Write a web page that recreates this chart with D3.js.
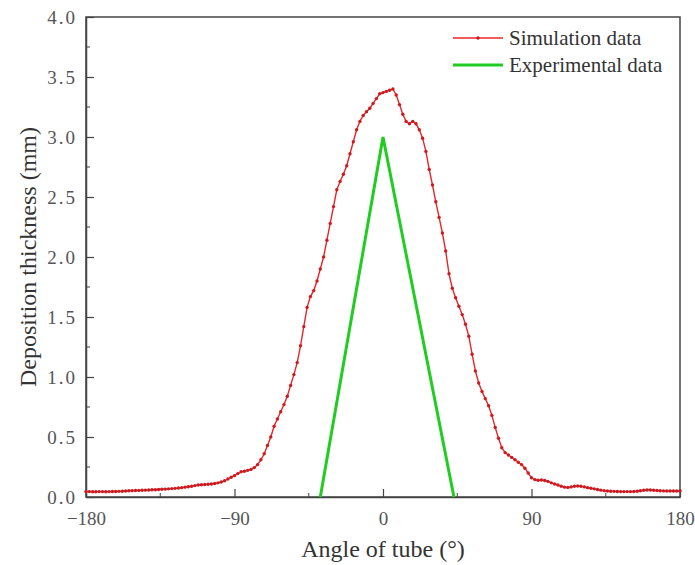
<!DOCTYPE html>
<html>
<head>
<meta charset="utf-8">
<script src="https://cdn.jsdelivr.net/npm/d3@7"></script>
<style>
  body { margin: 0; background: #fff; }
  text { font-family: "Liberation Serif", "Times New Roman", serif; }
</style>
</head>
<body>
<svg id="chart"></svg>
<script>
// simulation samples, every 2 degrees
const simAngle = [
  -180,-178,-176,-174,-172,-170,-168,-166,-164,-162,
  -160,-158,-156,-154,-152,-150,-148,-146,-144,-142,
  -140,-138,-136,-134,-132,-130,-128,-126,-124,-122,
  -120,-118,-116,-114,-112,-110,-108,-106,-104,-102,
  -100,-98,-96,-94,-92,-90,-88,-86,-84,-82,
  -80,-78,-76,-74,-72,-70,-68,-66,-64,-62,
  -60,-58,-56,-54,-52,-50,-48,-46,-44,-42,
  -40,-38,-36,-34,-32,-30,-28,-26,-24,-22,
  -20,-18,-16,-14,-12,-10,-8,-6,-4,-2,
  0,2,4,6,8,10,12,14,16,18,
  20,22,24,26,28,30,32,34,36,38,
  40,42,44,46,48,50,52,54,56,58,
  60,62,64,66,68,70,72,74,76,78,
  80,82,84,86,88,90,92,94,96,98,
  100,102,104,106,108,110,112,114,116,118,
  120,122,124,126,128,130,132,134,136,138,
  140,142,144,146,148,150,152,154,156,158,
  160,162,164,166,168,170,172,174,176,178,
  180
];
const simThickness = [
  0.045,0.045,0.044,0.044,0.045,0.045,0.044,0.045,0.046,0.046,
  0.047,0.048,0.050,0.052,0.053,0.054,0.055,0.056,0.057,0.058,
  0.060,0.060,0.062,0.064,0.066,0.068,0.070,0.072,0.075,0.078,
  0.082,0.085,0.090,0.095,0.100,0.102,0.104,0.106,0.108,0.112,
  0.118,0.125,0.135,0.150,0.165,0.178,0.195,0.210,0.215,0.222,
  0.230,0.245,0.270,0.310,0.360,0.430,0.500,0.590,0.650,0.710,
  0.770,0.840,0.930,1.020,1.120,1.260,1.420,1.580,1.670,1.720,
  1.800,1.900,2.000,2.140,2.280,2.420,2.560,2.630,2.690,2.760,
  2.860,2.960,3.060,3.130,3.180,3.210,3.240,3.280,3.320,3.360,
  3.370,3.380,3.390,3.400,3.350,3.270,3.190,3.130,3.110,3.130,
  3.110,3.060,2.990,2.880,2.730,2.600,2.460,2.330,2.200,2.050,
  1.860,1.740,1.660,1.590,1.520,1.440,1.340,1.190,1.050,0.950,
  0.880,0.820,0.760,0.680,0.580,0.490,0.410,0.370,0.350,0.330,
  0.310,0.290,0.270,0.240,0.200,0.160,0.145,0.140,0.142,0.138,
  0.130,0.118,0.108,0.100,0.090,0.082,0.080,0.084,0.090,0.092,
  0.090,0.084,0.078,0.073,0.068,0.062,0.057,0.053,0.050,0.048,
  0.047,0.046,0.045,0.045,0.045,0.045,0.046,0.048,0.052,0.056,
  0.058,0.058,0.056,0.054,0.052,0.051,0.050,0.050,0.050,0.050,
  0.050
];
// experimental profile
const expAngle = [-38, 0, 43];
const expThickness = [0, 3.0, 0];

const xTicks = [-180, -90, 0, 90, 180];
const xMinor = [-135, -45, 45, 135];
const yTicks = [0, 0.5, 1, 1.5, 2, 2.5, 3, 3.5, 4];
const yMinor = [0.25, 0.75, 1.25, 1.75, 2.25, 2.75, 3.25, 3.75];
const seriesNames = ["Simulation data", "Experimental data"];

const width = 695, height = 565;
const margin = {top: 17, right: 15, bottom: 68, left: 86};

const svg = d3.select("#chart").attr("width", width).attr("height", height);

const x = d3.scaleLinear().domain([-180, 180]).range([margin.left, width - margin.right]);
const y = d3.scaleLinear().domain([0, 4]).range([height - margin.bottom, margin.top]);

const axisColor = "#444";

// frame
svg.append("rect")
  .attr("x", x(-180)).attr("y", y(4))
  .attr("width", x(180) - x(-180)).attr("height", y(0) - y(4))
  .attr("fill", "none").attr("stroke", axisColor).attr("stroke-width", 1.5);

// ticks pointing inward
const fmtX = d => d < 0 ? "\u2212" + Math.abs(d) : String(d);
const xAxis = svg.append("g").attr("transform", `translate(0,${y(0)})`)
  .call(d3.axisBottom(x).tickValues(xTicks).tickSizeInner(-8).tickSizeOuter(0).tickPadding(15).tickFormat(fmtX));
xAxis.append("g").selectAll("line").data(xMinor).enter().append("line")
  .attr("x1", d => x(d)).attr("x2", d => x(d)).attr("y1", 0).attr("y2", -4)
  .attr("stroke", axisColor);

const yAxis = svg.append("g").attr("transform", `translate(${x(-180)},0)`)
  .call(d3.axisLeft(y).tickValues(yTicks).tickSizeInner(-8).tickSizeOuter(0).tickPadding(9).tickFormat(d3.format(".1f")));
yAxis.append("g").selectAll("line").data(yMinor).enter().append("line")
  .attr("y1", d => y(d)).attr("y2", d => y(d)).attr("x1", 0).attr("x2", 4)
  .attr("stroke", axisColor);

[xAxis, yAxis].forEach(g => {
  g.select(".domain").attr("stroke", axisColor).attr("stroke-width", 1.5);
  g.selectAll(".tick line").attr("stroke", axisColor).attr("stroke-width", 1.2);
  g.selectAll(".tick text")
    .attr("fill", "#555")
    .style("font-family", "'Liberation Serif', serif")
    .style("font-size", "19px");
});
yAxis.selectAll(".tick text").attr("letter-spacing", "2px");

// simulation line
const sim = simAngle.map((a, i) => ({a: a, v: simThickness[i]}));
const line = d3.line().x(d => x(d.a)).y(d => y(d.v));
svg.append("path").datum(sim)
  .attr("d", line).attr("fill", "none")
  .attr("stroke", "#e8262a").attr("stroke-width", 1.4);
svg.append("g").selectAll("circle").data(sim).enter().append("circle")
  .attr("cx", d => x(d.a)).attr("cy", d => y(d.v)).attr("r", 1.7)
  .attr("fill", "#cc1a20");

// experimental line
const exp = expAngle.map((a, i) => ({a: a, v: expThickness[i]}));
svg.append("path").datum(exp)
  .attr("d", line).attr("fill", "none")
  .attr("stroke", "#22cc22").attr("stroke-width", 3);

// legend
const legend = svg.append("g").attr("transform", "translate(453,38)");
legend.append("line").attr("x1", 0).attr("x2", 50).attr("y1", 0).attr("y2", 0)
  .attr("stroke", "#e8262a").attr("stroke-width", 1.4);
legend.append("circle").attr("cx", 25).attr("cy", 0).attr("r", 1.7).attr("fill", "#cc1a20");
legend.append("line").attr("x1", 0).attr("x2", 50).attr("y1", 27).attr("y2", 27)
  .attr("stroke", "#22cc22").attr("stroke-width", 3);
legend.selectAll("text").data(seriesNames).enter().append("text")
  .attr("x", 56).attr("y", (d, i) => i * 27 + 7)
  .attr("fill", "#333").style("font-size", "21px")
  .text(d => d);

// axis titles
svg.append("text")
  .attr("x", (x(-180) + x(180)) / 2).attr("y", 557)
  .attr("text-anchor", "middle").attr("fill", "#333").style("font-size", "24px")
  .text("Angle of tube (\u00b0)");
svg.append("text")
  .attr("transform", `translate(36,${(y(0) + y(4)) / 2}) rotate(-90)`)
  .attr("text-anchor", "middle").attr("fill", "#333").style("font-size", "24px")
  .text("Deposition thickness (mm)");
</script>
</body>
</html>
